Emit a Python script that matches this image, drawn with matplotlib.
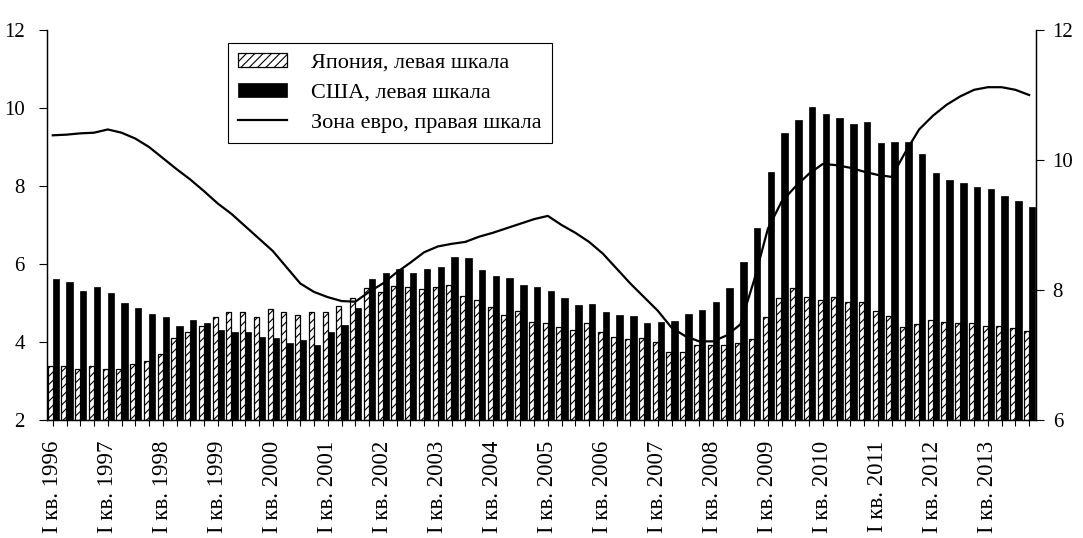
import matplotlib
matplotlib.use("Agg")
import matplotlib.pyplot as plt
import numpy as np

plt.rcParams['font.family'] = ['Liberation Serif', 'DejaVu Serif']
plt.rcParams['hatch.linewidth'] = 0.8

years = list(range(1996, 2014))
tick_labels = [f"I кв. {y}" for y in years]

japan = [3.38, 3.38, 3.32, 3.38, 3.32, 3.32, 3.43, 3.52,
         3.68, 4.09, 4.26, 4.40, 4.65, 4.78, 4.78, 4.65,
         4.85, 4.78, 4.69, 4.76, 4.76, 4.92, 5.14, 5.38,
         5.29, 5.44, 5.42, 5.35, 5.42, 5.46, 5.18, 5.08,
         4.90, 4.69, 4.79, 4.52, 4.50, 4.39, 4.31, 4.48,
         4.26, 4.12, 4.08, 4.09, 4.01, 3.75, 3.75, 3.92,
         3.92, 3.92, 3.97, 4.07, 4.63, 5.12, 5.39, 5.16,
         5.08, 5.16, 5.03, 5.03, 4.80, 4.67, 4.39, 4.46,
         4.56, 4.52, 4.50, 4.48, 4.41, 4.41, 4.37, 4.29]

usa = [5.61, 5.55, 5.31, 5.40, 5.26, 5.01, 4.86, 4.71,
       4.65, 4.42, 4.56, 4.48, 4.31, 4.26, 4.26, 4.14,
       4.09, 3.97, 4.05, 3.92, 4.26, 4.44, 4.86, 5.61,
       5.76, 5.86, 5.76, 5.86, 5.93, 6.19, 6.15, 5.85,
       5.70, 5.63, 5.46, 5.40, 5.31, 5.14, 4.95, 4.97,
       4.78, 4.69, 4.67, 4.48, 4.52, 4.55, 4.72, 4.82,
       5.03, 5.38, 6.06, 6.92, 8.37, 9.35, 9.69, 10.03,
       9.84, 9.74, 9.60, 9.64, 9.10, 9.13, 9.13, 8.82,
       8.33, 8.15, 8.08, 7.97, 7.92, 7.74, 7.62, 7.46]

euro = [10.38, 10.39, 10.41, 10.42, 10.47, 10.42, 10.33, 10.20,
        10.03, 9.86, 9.70, 9.52, 9.33, 9.17, 8.98, 8.79,
        8.60, 8.35, 8.10, 7.97, 7.89, 7.83, 7.82, 7.97,
        8.10, 8.27, 8.42, 8.58, 8.67, 8.71, 8.74, 8.82,
        8.88, 8.95, 9.02, 9.09, 9.14, 9.00, 8.88, 8.74,
        8.56, 8.33, 8.10, 7.89, 7.68, 7.42, 7.29, 7.21,
        7.21, 7.30, 7.47, 8.15, 8.94, 9.36, 9.59, 9.79,
        9.94, 9.92, 9.88, 9.82, 9.77, 9.74, 10.12, 10.47,
        10.68, 10.85, 10.98, 11.08, 11.12, 11.12, 11.08, 11.00]

labels = ["Япония, левая шкала", "США, левая шкала", "Зона евро, правая шкала"]

n = len(japan)
x = np.arange(n)

fig = plt.figure(figsize=(10.83, 5.38), dpi=100)
ax = fig.add_axes([47/1083, 1-420/538, (1036-47)/1083, 390/538])
ax2 = ax.twinx()

bj = ax.bar(x - 0.2, np.array(japan) - 2, width=0.36, bottom=2, color='white',
            edgecolor='black', linewidth=0.9, hatch='////', label=labels[0])
bu = ax.bar(x + 0.22, np.array(usa) - 2, width=0.46, bottom=2, color='black',
            edgecolor='black', linewidth=0.5, label=labels[1])
ln, = ax2.plot(x, euro, color='black', linewidth=1.6, label=labels[2])

ax.set_xlim(-0.42, 71.5)
ax.set_ylim(2, 12)
ax2.set_ylim(6, 12)
ax.set_yticks([2, 4, 6, 8, 10, 12])
ax2.set_yticks([6, 8, 10, 12])

ax.set_xticks(np.arange(0, n, 4))
ax.set_xticklabels(tick_labels, rotation=90, fontsize=16.5)
ax.set_xticks(np.arange(n), minor=True)
ax.tick_params(axis='x', which='both', direction='out', length=4, width=0.8, pad=11)
ax.tick_params(axis='y', direction='out', length=6, width=0.8, pad=10, labelsize=15)
ax2.tick_params(axis='y', direction='out', length=6, width=0.8, pad=6, labelsize=15)

for a in (ax, ax2):
    a.spines['top'].set_visible(False)
    for s in ('left', 'right', 'bottom'):
        a.spines[s].set_linewidth(0.9)

leg = ax.legend([bj, bu, ln], labels, loc='upper left',
                bbox_to_anchor=(0.183, 0.967), fontsize=16, frameon=True,
                fancybox=False, edgecolor='black', framealpha=1,
                handlelength=2.2, handleheight=0.6, labelspacing=0.45,
                borderpad=0.45, handletextpad=1.1, borderaxespad=0)
leg.get_frame().set_linewidth(0.8)

fig.savefig("out.png", dpi=100)
